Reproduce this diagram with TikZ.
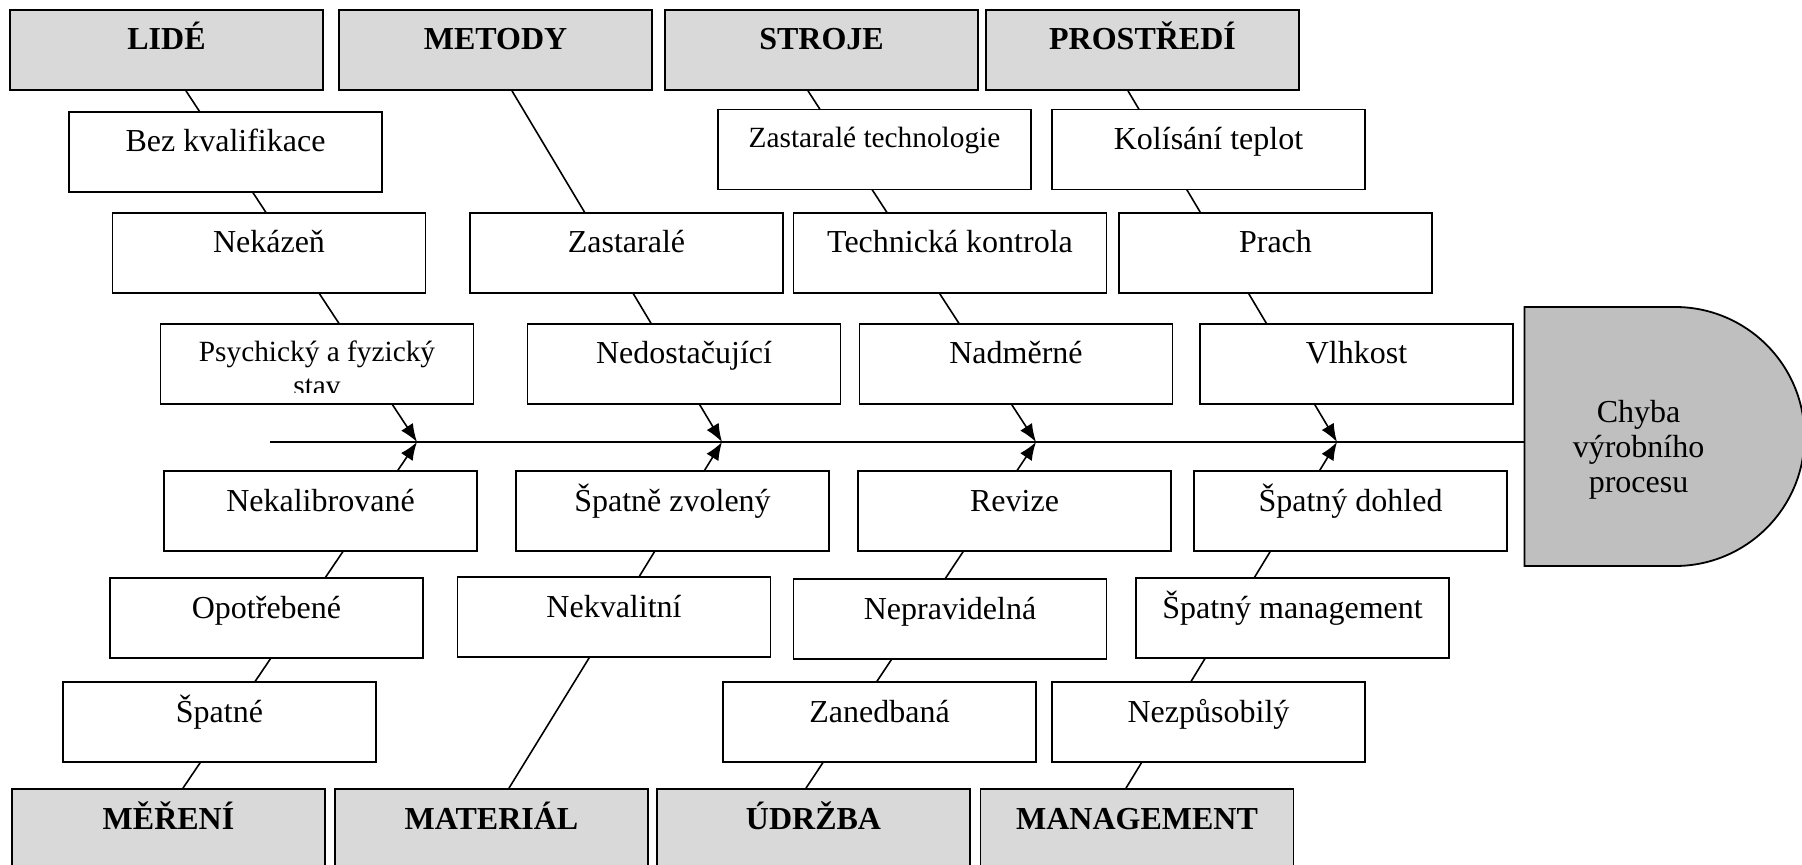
\documentclass[tikz,border=0pt]{standalone}
\usepackage{fontspec}
\setmainfont{Liberation Serif}
\usetikzlibrary{arrows.meta, calc, backgrounds, shapes.misc}
\definecolor{catfill}{RGB}{217,217,217}
\definecolor{headfill}{RGB}{191,191,191}
\tikzset{
    cat/.style={draw, fill=catfill, line width=0.9pt, minimum width=156.5pt, minimum height=40pt,
        inner sep=0pt, text height=20pt, text depth=20pt, font=\fontsize{16}{18}\selectfont\bfseries},
    cause/.style={draw, fill=white, line width=0.9pt, minimum width=156.5pt, minimum height=40pt,
        inner sep=0pt, text height=20pt, text depth=20pt, font=\fontsize{16}{18}\selectfont},
    smallcause/.style={cause, text height=19pt, text depth=21pt, font=\fontsize{14.67}{17}\selectfont},
    head/.style={draw, fill=headfill, line width=0.9pt, rounded rectangle, rounded rectangle west arc=none,
        minimum width=140pt, minimum height=129.5pt, inner sep=0pt},
    headtext/.style={align=center, font=\fontsize{16}{17.5}\selectfont, xshift=-13pt, yshift=-6.5pt},
    bone/.style={line width=0.8pt, -{Latex[length=9pt,width=7pt]}}
}
\begin{document}
\begin{tikzpicture}[x=0.5pt, y=-0.5pt]
    \useasboundingbox (0,0) rectangle (1802,865);

    \node (lide) at (166.5, 50) [cat] {LIDÉ};
    \node (metody) at (495.5, 50) [cat] {METODY};
    \node (stroje) at (821.5, 50) [cat] {STROJE};
    \node (prostredi) at (1142.5, 50) [cat] {PROSTŘEDÍ};

    \node (mereni) at (168.5, 829) [cat] {MĚŘENÍ};
    \node (material) at (491.5, 829) [cat] {MATERIÁL};
    \node (udrzba) at (813.5, 829) [cat] {ÚDRŽBA};
    \node (management) at (1137, 829) [cat] {MANAGEMENT};

    \node (bez) at (225.5, 152) [cause] {Bez kvalifikace};
    \node (zastech) at (874.5, 149.5) [smallcause] {Zastaralé technologie};
    \node (kolisani) at (1208.5, 149.5) [cause] {Kolísání teplot};

    \node (nekazen) at (269, 253) [cause] {Nekázeň};
    \node (zastarale) at (626.5, 253) [cause] {Zastaralé};
    \node (techkontrola) at (950, 253) [cause] {Technická kontrola};
    \node (prach) at (1275.5, 253) [cause] {Prach};

    \node (psych) at (317, 364) [smallcause] {Psychický a fyzický};
    \node (nedost) at (684, 364) [cause] {Nedostačující};
    \node (nadmerne) at (1016, 364) [cause] {Nadměrné};
    \node (vlhkost) at (1356.5, 364) [cause] {Vlhkost};

    \begin{scope}
        \clip (161, 330) rectangle (473, 393);
        \node (psystav) at ($(psych.base)+(0, 34)$) [anchor=base, font=\fontsize{14.67}{17}\selectfont] {stav};
    \end{scope}

    \node (nekalib) at (320.5, 511) [cause] {Nekalibrované};
    \node (spatnezvol) at (672.5, 511) [cause] {Špatně zvolený};
    \node (revize) at (1014.5, 511) [cause] {Revize};
    \node (dohled) at (1350.5, 511) [cause] {Špatný dohled};

    \node (opotreb) at (266.5, 618) [cause] {Opotřebené};
    \node (nekvalitni) at (614, 617) [cause] {Nekvalitní};
    \node (nepravid) at (950, 619) [cause] {Nepravidelná};
    \node (spatnyman) at (1292.5, 618) [cause] {Špatný management};

    \node (spatne) at (219.5, 722) [cause] {Špatné};
    \node (zanedbana) at (879.5, 722) [cause] {Zanedbaná};
    \node (nezpusob) at (1208.5, 722) [cause] {Nezpůsobilý};

    \node (chyba) at (1664.5, 436.5) [head,
        label={[name=chybatext, headtext]center:Chyba\\výrobního\\procesu}] {};

    \coordinate (tail) at (270, 442);
    \coordinate (t1) at (417, 442);
    \coordinate (t2) at (722, 442);
    \coordinate (t3) at (1036, 442);
    \coordinate (t4) at (1337, 442);

    \begin{scope}[on background layer]
        \draw[line width=0.8pt] (tail) -- (tail -| chyba.west);

        \draw[bone] ($(lide.south)+(19.5, 0)$) -- (t1);
        \draw[bone] ($(metody.south)+(16.5, 0)$) -- (t2);
        \draw[bone] ($(stroje.south)+(-13.5, 0)$) -- (t3);
        \draw[bone] ($(prostredi.south)+(-14.5, 0)$) -- (t4);

        \draw[bone] ($(mereni.north)+(14.5, 0)$) -- (t1);
        \draw[bone] ($(material.north)+(17.5, 0)$) -- (t2);
        \draw[bone] ($(udrzba.north)+(-7.5, 0)$) -- (t3);
        \draw[bone] ($(management.north)+(-11, 0)$) -- (t4);
    \end{scope}

\end{tikzpicture}
\end{document}
